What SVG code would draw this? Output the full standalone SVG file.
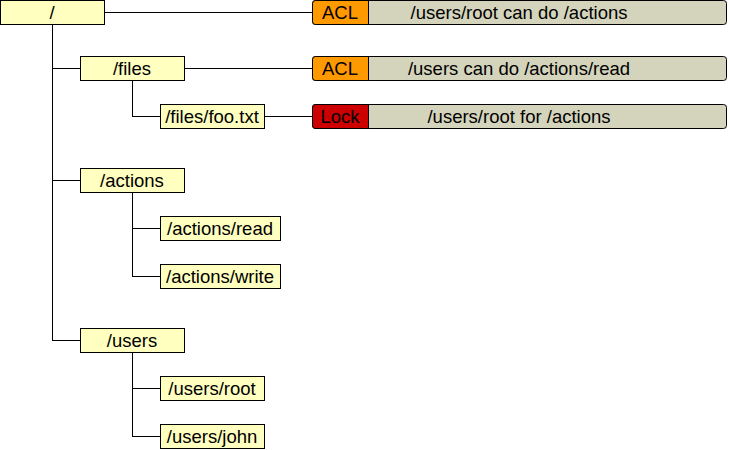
<svg xmlns="http://www.w3.org/2000/svg" width="730" height="450" viewBox="0 0 730 450">
<style>
.node rect{fill:#FFFFC0;stroke:#000;stroke-width:1}
.t{font-family:"Liberation Sans",Arial,sans-serif;font-size:18.5px;fill:#000;text-anchor:middle}
.conn line{stroke:#000;stroke-width:1}
.bar{fill:#D4D4BC;stroke:#000;stroke-width:1}
.acl{fill:#FF9900;stroke:#000;stroke-width:1}
.lock{fill:#CC0000;stroke:#000;stroke-width:1}
</style>
<rect width="730" height="450" fill="#fff"/>
<g id="connectors" class="conn">
<line x1="52.5" y1="24" x2="52.5" y2="340.5"/>
<line x1="52" y1="68.5" x2="80" y2="68.5"/>
<line x1="52" y1="180.5" x2="80" y2="180.5"/>
<line x1="52" y1="340.5" x2="80" y2="340.5"/>
<line x1="132.5" y1="80" x2="132.5" y2="116.5"/>
<line x1="132" y1="116.5" x2="160" y2="116.5"/>
<line x1="132.5" y1="192" x2="132.5" y2="276.5"/>
<line x1="132" y1="228.5" x2="160" y2="228.5"/>
<line x1="132" y1="276.5" x2="160" y2="276.5"/>
<line x1="132.5" y1="352" x2="132.5" y2="436.5"/>
<line x1="132" y1="388.5" x2="160" y2="388.5"/>
<line x1="132" y1="436.5" x2="160" y2="436.5"/>
<line x1="104" y1="12.5" x2="312" y2="12.5"/>
<line x1="184" y1="68.5" x2="312" y2="68.5"/>
<line x1="264" y1="116.5" x2="312" y2="116.5"/>
</g>
<g id="root" class="node"><rect x="0.5" y="0.5" width="104" height="24"/><text class="t" x="52" y="19">/</text></g>
<g id="files" class="node"><rect x="80.5" y="56.5" width="104" height="24"/><text class="t" x="132" y="75">/files</text></g>
<g id="foo" class="node"><rect x="160.5" y="104.5" width="104" height="24"/><text class="t" x="212" y="123">/files/foo.txt</text></g>
<g id="actions" class="node"><rect x="80.5" y="168.5" width="104" height="24"/><text class="t" x="132" y="187">/actions</text></g>
<g id="actions-read" class="node"><rect x="160.5" y="216.5" width="120" height="24"/><text class="t" x="220" y="235">/actions/read</text></g>
<g id="actions-write" class="node"><rect x="160.5" y="264.5" width="120" height="24"/><text class="t" x="220" y="283">/actions/write</text></g>
<g id="users" class="node"><rect x="80.5" y="328.5" width="104" height="24"/><text class="t" x="132" y="347">/users</text></g>
<g id="users-root" class="node"><rect x="160.5" y="376.5" width="104" height="24"/><text class="t" x="212" y="395">/users/root</text></g>
<g id="users-john" class="node"><rect x="160.5" y="424.5" width="104" height="24"/><text class="t" x="212" y="443">/users/john</text></g>
<g id="tag-root">
<rect class="bar" x="312.5" y="0.5" width="414" height="24" rx="3"/>
<path class="acl" d="M368.5 0.5 H315.5 Q312.5 0.5 312.5 3.5 V21.5 Q312.5 24.5 315.5 24.5 H368.5 Z"/>
<text class="t" x="340" y="19">ACL</text>
<text class="t" x="519" y="19">/users/root can do /actions</text>
</g>
<g id="tag-files">
<rect class="bar" x="312.5" y="56.5" width="414" height="24" rx="3"/>
<path class="acl" d="M368.5 56.5 H315.5 Q312.5 56.5 312.5 59.5 V77.5 Q312.5 80.5 315.5 80.5 H368.5 Z"/>
<text class="t" x="340" y="75">ACL</text>
<text class="t" x="519" y="75">/users can do /actions/read</text>
</g>
<g id="tag-foo">
<rect class="bar" x="312.5" y="104.5" width="414" height="24" rx="3"/>
<path class="lock" d="M368.5 104.5 H315.5 Q312.5 104.5 312.5 107.5 V125.5 Q312.5 128.5 315.5 128.5 H368.5 Z"/>
<text class="t" x="340" y="123">Lock</text>
<text class="t" x="519" y="123">/users/root for /actions</text>
</g>
</svg>
